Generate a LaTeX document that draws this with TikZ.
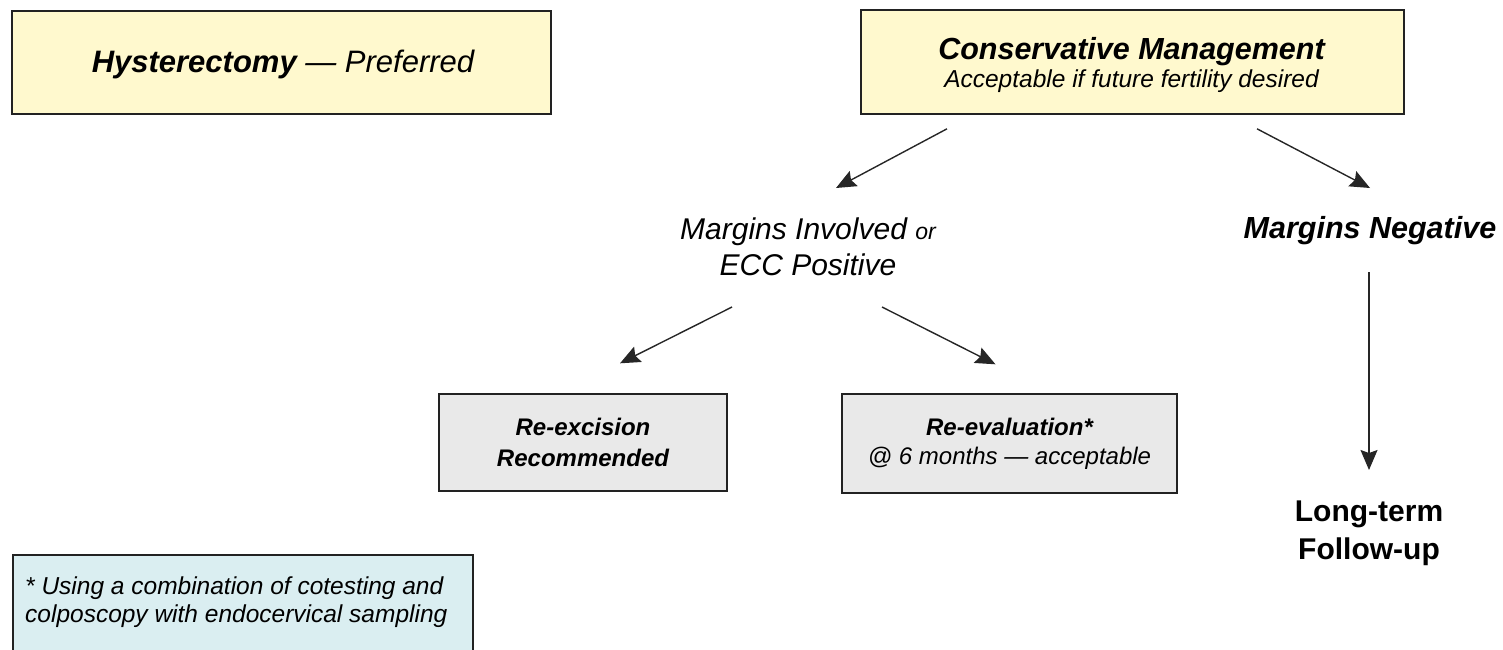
\documentclass[tikz,border=0pt]{standalone}
\usepackage{fontspec}
\setmainfont{Liberation Sans}
\usetikzlibrary{arrows.meta,calc}
\definecolor{boxyellow}{HTML}{FFF9CE}
\definecolor{boxgray}{HTML}{E9E9E9}
\definecolor{boxblue}{HTML}{DAEEF1}
\definecolor{edgecol}{HTML}{222222}
\newcommand{\fsz}[2]{\fontsize{#1}{#2}\selectfont}
\begin{document}
\begin{tikzpicture}[x=1pt,y=-1pt,
  yellowbox/.style={draw=edgecol, line width=1.6pt, fill=boxyellow, inner sep=0pt, align=center},
  graybox/.style={draw=edgecol, line width=1.4pt, fill=boxgray, inner sep=0pt, align=center},
  bluebox/.style={draw=edgecol, line width=1.4pt, fill=boxblue, inner sep=0pt},
  plain/.style={inner sep=0pt, align=center},
  arr/.style={draw=black!85, line width=1.4pt, -{Stealth[length=20pt,width=17pt,inset=3pt]}}]
\useasboundingbox (0,0) rectangle (1503,649);
\clip (0,0) rectangle (1503,649);

\node[yellowbox, minimum width=539pt, minimum height=103pt] (hyst) at (281.5,62.5) {};
\node[plain, font=\fsz{31}{36}\itshape] (hysttext) at (283,64) {\textbf{Hysterectomy} — Preferred};

\node[yellowbox, minimum width=543pt, minimum height=104pt] (cons) at (1132.5,62) {};
\node[plain, font=\fsz{30.5}{28}\itshape] (constext) at (1131.5,65) {\textbf{Conservative Management}\\{\fsz{24.5}{28}Acceptable if future fertility desired}};

\node[plain, font=\fsz{30}{36}\itshape] (minv) at (808,247) {Margins Involved {\fsz{23}{36}or}\\ECC Positive};

\node[plain, font=\fsz{30.5}{36}\bfseries\itshape] (mneg) at (1370,231) {Margins Negative};

\node[graybox, minimum width=288pt, minimum height=97pt, font=\fsz{24}{31}\bfseries\itshape] (reex) at (583,442.5) {Re-excision\\Recommended};

\node[graybox, minimum width=335pt, minimum height=99pt, font=\fsz{24}{29}\itshape] (reev) at (1009.5,443.5) {\textbf{Re-evaluation*}\\@ 6 months — acceptable};

\node[plain, font=\fsz{30}{38}\bfseries] (ltf) at (1369,533) {Long-term\\Follow-up};

\node[bluebox, minimum width=460pt, minimum height=110pt] (note) at (243,610) {};
\node[inner sep=0pt, anchor=north west, align=left, font=\fsz{24.5}{28}\itshape] (notetext) at (25,577) {* Using a combination of cotesting and\\colposcopy with endocervical sampling};

\draw[arr] ($(cons.south)+(-185.5,14)$) -- ($(minv.center)+(28,-59)$);
\draw[arr] ($(cons.south)+(124.5,14)$) -- ($(mneg.center)+(0,-43)$);
\draw[arr] ($(minv.center)+(-76,60)$) -- ($(reex.north)+(37,-30)$);
\draw[arr] ($(minv.center)+(74,60)$) -- ($(reev.north)+(-14,-29)$);
\draw[arr] ($(mneg.center)+(-1,41)$) -- ($(ltf.center)+(0,-63)$);
\end{tikzpicture}
\end{document}
